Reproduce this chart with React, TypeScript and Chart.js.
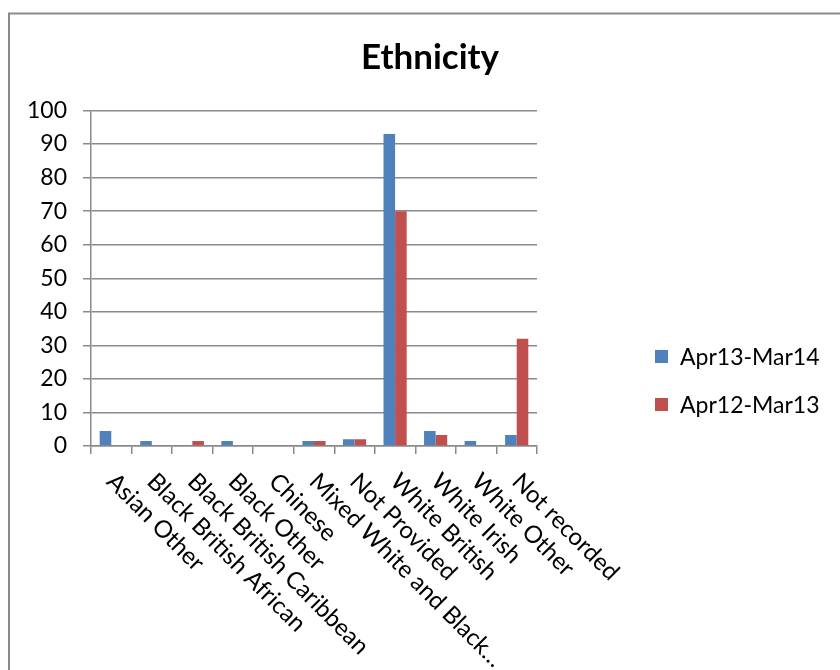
import React, { useEffect, useRef } from "react";
import { Chart, registerables } from "chart.js";

Chart.register(...registerables);

const categories = [
  "Asian Other",
  "Black British African",
  "Black British Caribbean",
  "Black Other",
  "Chinese",
  "Mixed White and Black…",
  "Not Provided",
  "White British",
  "White Irish",
  "White Other",
  "Not recorded",
];
const seriesNames = ["Apr13-Mar14", "Apr12-Mar13"];
const apr13Mar14 = [4.5, 1.5, 0, 1.5, 0, 1.5, 2, 93, 4.5, 1.5, 3.3];
const apr12Mar13 = [0, 0, 1.5, 0, 0, 1.5, 2, 70, 3.3, 0, 32];
const yMin = 0;
const yMax = 100;
const yStep = 10;
const titleText = "Ethnicity";

const FONT = "Lato, 'Open Sans', sans-serif";
const BLUE = "#4F81BD";
const RED = "#C0504D";
const GRID = "#8a8a8a";

const framePlugin = {
  id: "frame",
  beforeDraw(chart: any) {
    const ctx = chart.ctx;
    ctx.save();
    ctx.fillStyle = "#ffffff";
    ctx.fillRect(0, 0, chart.width, chart.height);
    ctx.strokeStyle = GRID;
    ctx.lineWidth = 2;
    ctx.strokeRect(9, 13.5, chart.width + 50, chart.height + 50);
    ctx.restore();
  },
};

const titlePlugin = {
  id: "customTitle",
  afterDraw(chart: any) {
    const ctx = chart.ctx;
    ctx.save();
    ctx.font = `bold 35px ${FONT}`;
    ctx.fillStyle = "#000000";
    ctx.textAlign = "center";
    ctx.textBaseline = "alphabetic";
    ctx.fillText(titleText, 430, 69);
    ctx.restore();
  },
};

const xLabelPlugin = {
  id: "xLabels",
  afterDraw(chart: any) {
    const ctx = chart.ctx;
    const xScale = chart.scales.x;
    const labels = chart.data.labels as string[];
    ctx.save();
    ctx.font = `24px ${FONT}`;
    ctx.fillStyle = "#000000";
    ctx.textAlign = "left";
    ctx.textBaseline = "alphabetic";
    labels.forEach((lab, i) => {
      const x = xScale.getPixelForValue(i);
      const y = xScale.top;
      ctx.save();
      ctx.translate(x - 6, y + 37);
      ctx.rotate(Math.PI / 4);
      ctx.fillText(lab, 0, 0);
      ctx.restore();
    });
    ctx.restore();
  },
};

const legendPlugin = {
  id: "customLegend",
  afterDraw(chart: any) {
    const ctx = chart.ctx;
    ctx.save();
    ctx.font = `23px ${FONT}`;
    ctx.textAlign = "left";
    ctx.textBaseline = "middle";
    chart.data.datasets.forEach((ds: any, i: number) => {
      const cy = 356.5 + i * 48;
      ctx.fillStyle = ds.backgroundColor;
      ctx.fillRect(655, cy - 6.5, 13, 13);
      ctx.fillStyle = "#000000";
      ctx.fillText(ds.label, 680, cy + 1);
    });
    ctx.restore();
  },
};

export default function App() {
  const canvasRef = useRef<HTMLCanvasElement | null>(null);

  useEffect(() => {
    if (!canvasRef.current) return;
    const chart = new Chart(canvasRef.current, {
      type: "bar",
      data: {
        labels: categories,
        datasets: [
          {
            label: seriesNames[0],
            data: apr13Mar14,
            backgroundColor: BLUE,
            categoryPercentage: 2 / 3.5,
            barPercentage: 1,
          },
          {
            label: seriesNames[1],
            data: apr12Mar13,
            backgroundColor: RED,
            categoryPercentage: 2 / 3.5,
            barPercentage: 1,
          },
        ],
      },
      options: {
        animation: false,
        responsive: false,
        maintainAspectRatio: false,
        layout: {
          padding: { left: 0, right: 303, top: 110.5, bottom: 216 },
        },
        plugins: {
          legend: { display: false },
          tooltip: { enabled: false },
          title: { display: false },
        },
        scales: {
          x: {
            offset: true,
            grid: {
              offset: true,
              drawOnChartArea: false,
              drawTicks: true,
              tickLength: 8,
              color: GRID,
              lineWidth: 1.5,
            },
            border: { color: GRID, width: 1.5 },
            ticks: { display: false },
          },
          y: {
            min: yMin,
            max: yMax,
            afterFit(scale: any) {
              scale.width = 91;
            },
            grid: {
              color: GRID,
              lineWidth: 1.5,
              tickLength: 8,
            },
            border: { color: GRID, width: 1.5 },
            ticks: {
              stepSize: yStep,
              color: "#000000",
              padding: 16,
              font: { family: FONT, size: 23 },
            },
          },
        },
      },
      plugins: [framePlugin, titlePlugin, xLabelPlugin, legendPlugin],
    });
    return () => chart.destroy();
  }, []);

  return (
    <div style={{ position: "absolute", left: 0, top: 0, width: 840, height: 670 }}>
      <canvas ref={canvasRef} width={840} height={670} style={{ display: "block" }} />
    </div>
  );
}
